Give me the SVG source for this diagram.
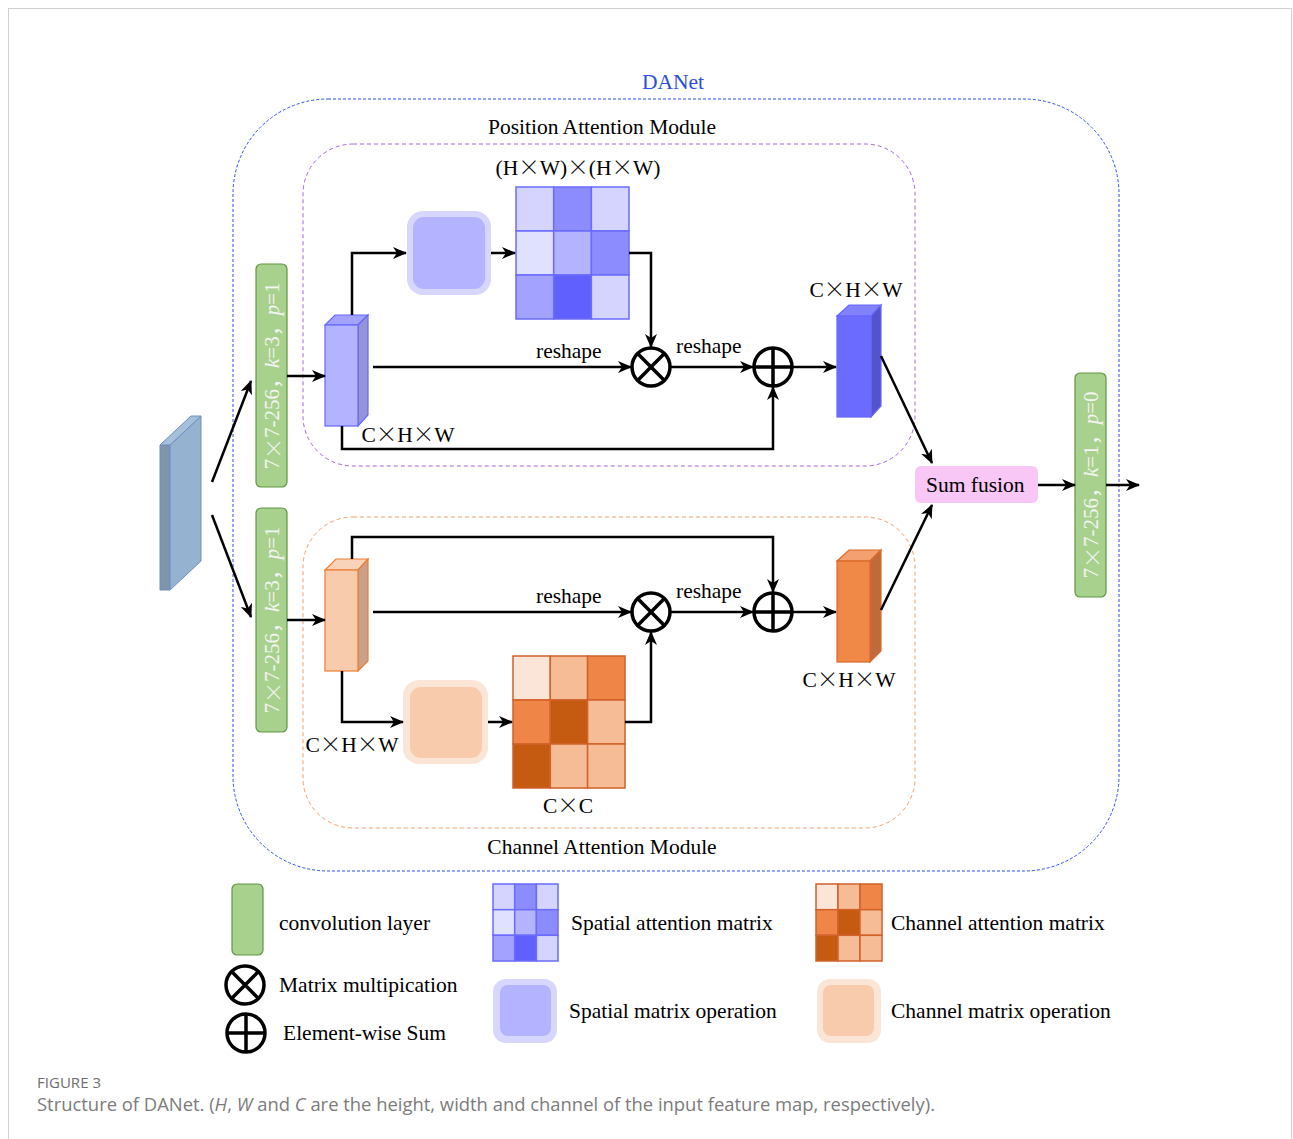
<svg xmlns="http://www.w3.org/2000/svg" width="1293" height="1139" viewBox="0 0 1293 1139">
<style>
text{font-family:"Liberation Serif","Noto Sans CJK SC",serif;font-size:21.5px;fill:#000}
.x{font-family:"Noto Sans CJK SC",sans-serif;font-weight:300}
.conv{fill:#a9d18e;stroke:#5f9640;stroke-width:1.2}
.ct{fill:#f4f4f4;font-size:21px;text-anchor:middle;dominant-baseline:central}
.it{font-style:italic}
.ln{fill:none;stroke:#000;stroke-width:2.5;marker-end:url(#ah)}
.op{fill:none;stroke:#000;stroke-width:3.5}
.mid{text-anchor:middle}
.cap{font-family:"Open Sans","Liberation Sans",sans-serif}
</style>
<defs>
<marker id="ah" viewBox="0 0 14 12" refX="13" refY="6" markerWidth="14" markerHeight="12" orient="auto" markerUnits="userSpaceOnUse">
<path d="M0,0 L14,6 L0,12 L4,6 Z" fill="#000"/>
</marker>
<g id="otimes"><circle r="19" class="op"/><path d="M-13.4,-13.4 L13.4,13.4 M13.4,-13.4 L-13.4,13.4" class="op"/></g>
<g id="oplus"><circle r="19" class="op"/><path d="M-19,0 H19 M0,-19 V19" class="op"/></g>
</defs>
<rect x="8.5" y="8.5" width="1283" height="1150" fill="#fff" stroke="#d0d0d0" stroke-width="1"/>

<g id="danet">
<rect x="233" y="99" width="886" height="772" rx="95" fill="none" stroke="#2a4cf0" stroke-width="1" stroke-dasharray="3 2"/>
<text x="673" y="89" class="mid" style="fill:#2b4de0">DANet</text>
</g>
<g id="pam">
<rect x="303" y="144" width="612" height="322" rx="50" fill="none" stroke="#a865e0" stroke-width="1" stroke-dasharray="4 3"/>
<text x="602" y="134" class="mid">Position Attention Module</text>
</g>
<g id="cam">
<rect x="303" y="517" width="612" height="311" rx="50" fill="none" stroke="#f4a06a" stroke-width="1" stroke-dasharray="4 3"/>
<text x="602" y="854" class="mid">Channel Attention Module</text>
</g>

<g id="input">
<polygon points="160,445 170,445 170,590 160,590" fill="#7f95ab" stroke="#6c8ebf" stroke-width="1"/>
<polygon points="170,445 201,416 201,561 170,590" fill="#95b3d0" stroke="#6c8ebf" stroke-width="1"/>
<polygon points="160,445 191,416 201,416 170,445" fill="#a6c0da" stroke="#6c8ebf" stroke-width="1"/>
</g>

<g id="conv1">
<rect x="256" y="264" width="31" height="223" rx="5" class="conv"/>
<text x="272" y="376" class="ct" transform="rotate(-90 272 376)">7<tspan class="x">×</tspan>7-256，<tspan class="it">k</tspan>=3，<tspan class="it">p</tspan>=1</text>
</g>
<g id="conv2">
<rect x="256" y="508" width="31" height="224" rx="5" class="conv"/>
<text x="272" y="620" class="ct" transform="rotate(-90 272 620)">7<tspan class="x">×</tspan>7-256，<tspan class="it">k</tspan>=3，<tspan class="it">p</tspan>=1</text>
</g>
<g id="conv3">
<rect x="1075" y="373" width="31" height="224" rx="5" class="conv"/>
<text x="1091" y="485" class="ct" transform="rotate(-90 1091 485)">7<tspan class="x">×</tspan>7-256，<tspan class="it">k</tspan>=1，<tspan class="it">p</tspan>=0</text>
</g>

<g id="cubeP1">
<polygon points="325,325 335,315 368,315 358,325" fill="#a3a3ff" stroke="#6666ff" stroke-width="1.2"/>
<polygon points="358,325 368,315 368,415 358,426" fill="#9494d6" stroke="#6666ff" stroke-width="1.2"/>
<rect x="325" y="325" width="33" height="101" fill="#b3b3ff" stroke="#6666ff" stroke-width="1.2"/>
<text x="408" y="442" class="mid">C<tspan class="x">×</tspan>H<tspan class="x">×</tspan>W</text>
</g>
<g id="cubeP2">
<polygon points="837,316 849,305 881,305 871,316" fill="#8282ff" stroke="#6666ff" stroke-width="1.2"/>
<polygon points="871,316 881,305 881,406 871,417" fill="#5353cc" stroke="#6666ff" stroke-width="1.2"/>
<rect x="837" y="316" width="34" height="101" fill="#6b6bff" stroke="#6666ff" stroke-width="1.2"/>
<text x="856" y="297" class="mid">C<tspan class="x">×</tspan>H<tspan class="x">×</tspan>W</text>
</g>
<g id="cubeC1">
<polygon points="325,570 336,559 368,559 358,570" fill="#f9d3b9" stroke="#ed7d31" stroke-width="1.2"/>
<polygon points="358,570 368,559 368,661 358,671" fill="#c9a08a" stroke="#ed7d31" stroke-width="1.2"/>
<rect x="325" y="570" width="33" height="101" fill="#f8cbad" stroke="#ed7d31" stroke-width="1.2"/>
<text x="352" y="752" class="mid">C<tspan class="x">×</tspan>H<tspan class="x">×</tspan>W</text>
</g>
<g id="cubeC2">
<polygon points="837,561 849,550 881,550 870,561" fill="#f4a070" stroke="#d96a2c" stroke-width="1.2"/>
<polygon points="870,561 881,550 881,651 870,662" fill="#c0693a" stroke="#d96a2c" stroke-width="1.2"/>
<rect x="837" y="561" width="33" height="101" fill="#f08848" stroke="#d96a2c" stroke-width="1.2"/>
<text x="849" y="687" class="mid">C<tspan class="x">×</tspan>H<tspan class="x">×</tspan>W</text>
</g>

<g id="spatialOp">
<rect x="407" y="211" width="84" height="84" rx="16" fill="#d6d6ff"/>
<rect x="413" y="217" width="72" height="72" rx="11" fill="#b3b3ff"/>
</g>
<g id="spatialMatrix" stroke="#6b6bff" stroke-width="1.5">
<rect x="516" y="187" width="37.7" height="44" fill="#d4d4ff"/>
<rect x="553.7" y="187" width="37.7" height="44" fill="#8c8cff"/>
<rect x="591.4" y="187" width="37.6" height="44" fill="#d4d4ff"/>
<rect x="516" y="231" width="37.7" height="44" fill="#e0e0ff"/>
<rect x="553.7" y="231" width="37.7" height="44" fill="#b3b3ff"/>
<rect x="591.4" y="231" width="37.6" height="44" fill="#8c8cff"/>
<rect x="516" y="275" width="37.7" height="44" fill="#a3a3ff"/>
<rect x="553.7" y="275" width="37.7" height="44" fill="#6060ff"/>
<rect x="591.4" y="275" width="37.6" height="44" fill="#d4d4ff"/>
<text x="578" y="175" class="mid" stroke="none">(H<tspan class="x">×</tspan>W)<tspan class="x">×</tspan>(H<tspan class="x">×</tspan>W)</text>
</g>

<g id="channelOp">
<rect x="403" y="680" width="85" height="84" rx="16" fill="#fbe5d6"/>
<rect x="410" y="687" width="72" height="71" rx="11" fill="#f8cbad"/>
</g>
<g id="channelMatrix" stroke="#d0622a" stroke-width="1.5">
<rect x="513" y="656" width="37.3" height="44" fill="#fbe5d6"/>
<rect x="550.3" y="656" width="37.3" height="44" fill="#f5bc95"/>
<rect x="587.6" y="656" width="37.4" height="44" fill="#f08548"/>
<rect x="513" y="700" width="37.3" height="44" fill="#f08548"/>
<rect x="550.3" y="700" width="37.3" height="44" fill="#c55a11"/>
<rect x="587.6" y="700" width="37.4" height="44" fill="#f5bc95"/>
<rect x="513" y="744" width="37.3" height="44" fill="#c55a11"/>
<rect x="550.3" y="744" width="37.3" height="44" fill="#f5bc95"/>
<rect x="587.6" y="744" width="37.4" height="44" fill="#f5bc95"/>
<text x="568" y="813" class="mid" stroke="none">C<tspan class="x">×</tspan>C</text>
</g>

<g id="mulP"><use href="#otimes" x="651" y="367"/></g>
<g id="sumP"><use href="#oplus" x="773" y="367"/></g>
<g id="mulC"><use href="#otimes" x="651" y="612"/></g>
<g id="sumC"><use href="#oplus" x="773" y="612"/></g>

<g id="sumfusion">
<rect x="915" y="466" width="123" height="37" rx="6" fill="#f9c7f6"/>
<text x="926" y="492">Sum fusion</text>
</g>

<g id="connectors">
<path class="ln" d="M212,482 L251,381"/>
<path class="ln" d="M212,515 L251,617"/>
<path class="ln" d="M287,376 H325"/>
<path class="ln" d="M352,315 V253 H406"/>
<path class="ln" d="M491,253 H515"/>
<path class="ln" d="M629,253 H651 V347"/>
<path class="ln" d="M373,367 H631"/>
<path class="ln" d="M670,367 H753"/>
<path class="ln" d="M792,367 H836"/>
<path class="ln" d="M342,426 V449 H773 V387"/>
<path class="ln" d="M881,356 L932,463"/>
<path class="ln" d="M287,620 H325"/>
<path class="ln" d="M352,559 V537 H773 V592"/>
<path class="ln" d="M373,612 H631"/>
<path class="ln" d="M670,612 H753"/>
<path class="ln" d="M792,612 H836"/>
<path class="ln" d="M342,671 V722 H403"/>
<path class="ln" d="M488,722 H512"/>
<path class="ln" d="M625,722 H651 V632"/>
<path class="ln" d="M881,610 L932,505"/>
<path class="ln" d="M1038,485 H1075"/>
<path class="ln" d="M1106,485 H1139"/>
<text x="536" y="358">reshape</text>
<text x="676" y="353">reshape</text>
<text x="536" y="603">reshape</text>
<text x="676" y="598">reshape</text>
</g>

<g id="legend">
<rect x="232" y="884" width="31" height="71" rx="5" class="conv"/>
<text x="279" y="930">convolution layer</text>
<use href="#otimes" x="245" y="985"/>
<text x="279" y="992">Matrix multipication</text>
<use href="#oplus" x="246" y="1033"/>
<text x="283" y="1040">Element-wise Sum</text>
<g stroke="#6b6bff" stroke-width="1.5">
<rect x="493" y="884" width="21.7" height="25.7" fill="#d4d4ff"/>
<rect x="514.7" y="884" width="21.7" height="25.7" fill="#8c8cff"/>
<rect x="536.4" y="884" width="21.6" height="25.7" fill="#d4d4ff"/>
<rect x="493" y="909.7" width="21.7" height="25.6" fill="#e0e0ff"/>
<rect x="514.7" y="909.7" width="21.7" height="25.6" fill="#b3b3ff"/>
<rect x="536.4" y="909.7" width="21.6" height="25.6" fill="#8c8cff"/>
<rect x="493" y="935.3" width="21.7" height="25.7" fill="#a3a3ff"/>
<rect x="514.7" y="935.3" width="21.7" height="25.7" fill="#6060ff"/>
<rect x="536.4" y="935.3" width="21.6" height="25.7" fill="#d4d4ff"/>
</g>
<text x="571" y="930">Spatial attention matrix</text>
<rect x="493" y="979" width="64" height="64" rx="13" fill="#d6d6ff"/>
<rect x="500" y="985" width="51" height="51" rx="8" fill="#b3b3ff"/>
<text x="569" y="1018">Spatial matrix operation</text>
<g stroke="#d0622a" stroke-width="1.5">
<rect x="816" y="884" width="22" height="25.7" fill="#fbe5d6"/>
<rect x="838" y="884" width="22" height="25.7" fill="#f5bc95"/>
<rect x="860" y="884" width="22" height="25.7" fill="#f08548"/>
<rect x="816" y="909.7" width="22" height="25.6" fill="#f08548"/>
<rect x="838" y="909.7" width="22" height="25.6" fill="#c55a11"/>
<rect x="860" y="909.7" width="22" height="25.6" fill="#f5bc95"/>
<rect x="816" y="935.3" width="22" height="25.7" fill="#c55a11"/>
<rect x="838" y="935.3" width="22" height="25.7" fill="#f5bc95"/>
<rect x="860" y="935.3" width="22" height="25.7" fill="#f5bc95"/>
</g>
<text x="891" y="930">Channel attention matrix</text>
<rect x="817" y="979" width="64" height="64" rx="13" fill="#fbe5d6"/>
<rect x="823" y="985" width="51" height="51" rx="8" fill="#f8cbad"/>
<text x="891" y="1018">Channel matrix operation</text>
</g>

<g id="caption">
<text x="37" y="1088" class="cap" style="font-size:14px;fill:#6e6e6e" textLength="64" lengthAdjust="spacingAndGlyphs">FIGURE 3</text>
<text x="37" y="1111" class="cap" style="font-size:18px;fill:#7c7c7c" textLength="898" lengthAdjust="spacingAndGlyphs">Structure of DANet. (<tspan font-style="italic">H</tspan>, <tspan font-style="italic">W</tspan> and <tspan font-style="italic">C</tspan> are the height, width and channel of the input feature map, respectively).</text>
</g>
</svg>
